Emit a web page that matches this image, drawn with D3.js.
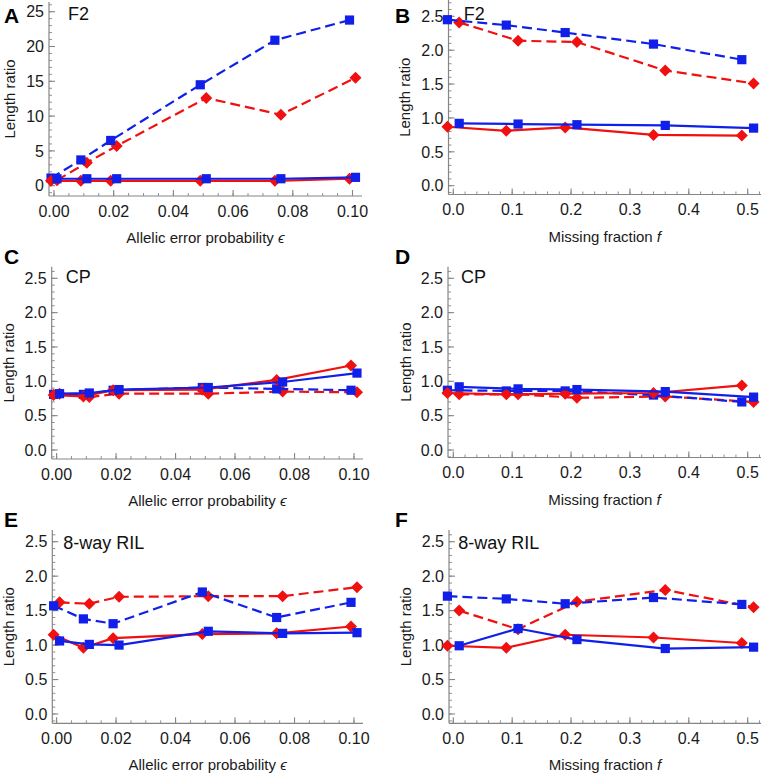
<!DOCTYPE html>
<html><head><meta charset="utf-8">
<script src="https://cdn.jsdelivr.net/npm/d3@7"></script>
<style>
html,body{margin:0;padding:0;background:#fff;}
svg text{font-family:"Liberation Sans",Arial,Helvetica,sans-serif;}
</style></head>
<body><svg id="chart" width="762" height="776"></svg>
<script>
// x positions (jittered as in the figure)
const errXLeft  = [-0.001, 0.009, 0.019, 0.049, 0.074, 0.099];
const errXRight = [0.001, 0.011, 0.021, 0.051, 0.076, 0.101];
const missXLeft  = [-0.01, 0.09, 0.19, 0.34, 0.49];
const missXRight = [0.01, 0.11, 0.21, 0.36, 0.51];

// Panel A (F2, allelic error)
const aRedDashed  = [0.8, 3.3, 5.7, 12.6, 10.2, 15.5];
const aBlueDashed = [1.1, 3.7, 6.5, 14.5, 20.9, 23.8];
const aRedSolid   = [0.7, 0.7, 0.7, 0.7, 0.7, 1.0];
const aBlueSolid  = [1.0, 1.0, 1.0, 1.0, 1.0, 1.2];
// Panel B (F2, missing fraction)
const bRedDashed  = [2.41, 2.14, 2.12, 1.70, 1.51];
const bBlueDashed = [2.45, 2.37, 2.26, 2.09, 1.86];
const bRedSolid   = [0.87, 0.81, 0.86, 0.75, 0.74];
const bBlueSolid  = [0.92, 0.91, 0.90, 0.89, 0.85];
// Panel C (CP, allelic error)
const cRedDashed  = [0.82, 0.77, 0.82, 0.82, 0.85, 0.84];
const cBlueDashed = [0.81, 0.81, 0.87, 0.91, 0.89, 0.87];
const cRedSolid   = [0.80, 0.78, 0.87, 0.88, 1.02, 1.23];
const cBlueSolid  = [0.82, 0.83, 0.88, 0.91, 0.99, 1.12];
// Panel D (CP, missing fraction)
const dRedDashed  = [0.81, 0.81, 0.76, 0.78, 0.70];
const dBlueDashed = [0.87, 0.86, 0.86, 0.80, 0.70];
const dRedSolid   = [0.83, 0.81, 0.82, 0.83, 0.94];
const dBlueSolid  = [0.92, 0.89, 0.88, 0.85, 0.77];
// Panel E (8-way RIL, allelic error)
const eRedDashed  = [1.62, 1.60, 1.70, 1.71, 1.71, 1.84];
const eBlueDashed = [1.57, 1.38, 1.31, 1.77, 1.40, 1.62];
const eRedSolid   = [1.15, 0.96, 1.10, 1.16, 1.17, 1.27];
const eBlueSolid  = [1.06, 1.01, 1.00, 1.20, 1.17, 1.18];
// Panel F (8-way RIL, missing fraction)
const fRedDashed  = [1.50, 1.23, 1.63, 1.80, 1.55];
const fBlueDashed = [1.71, 1.67, 1.60, 1.69, 1.59];
const fRedSolid   = [0.99, 0.96, 1.15, 1.11, 1.03];
const fBlueSolid  = [0.99, 1.24, 1.08, 0.95, 0.97];

// tick labels
const errTicks = [0, 0.02, 0.04, 0.06, 0.08, 0.10];
const missTicks = [0, 0.1, 0.2, 0.3, 0.4, 0.5];
const ratioTicks = [0, 0.5, 1.0, 1.5, 2.0, 2.5];
const bigTicks = [0, 5, 10, 15, 20, 25];

const panelLetters = ["A","B","C","D","E","F"];
const panelTitles = ["F2","F2","CP","CP","8-way RIL","8-way RIL"];
const xTitleErr = "Allelic error probability ";
const xTitleMiss = "Missing fraction ";
const yTitle = "Length ratio";

const RED = "#f01010", BLUE = "#1020e8";
const AXIS = "#858585";

const svg = d3.select("#chart");

function panel(cfg) {
  const g = svg.append("g");
  const x = d3.scaleLinear().domain(cfg.xd).range(cfg.xr);
  const y = d3.scaleLinear().domain(cfg.yd).range(cfg.yr);
  const [L, R, T, B] = cfg.frame;
  g.append("line").attr("x1", L).attr("x2", L).attr("y1", T).attr("y2", B).attr("stroke", AXIS).attr("stroke-width", 1.2);
  g.append("line").attr("x1", L).attr("x2", R).attr("y1", B).attr("y2", B).attr("stroke", AXIS).attr("stroke-width", 1.2);
  const xMinor = d3.range(Math.ceil(x.invert(L)/cfg.xMinor), Math.floor(x.invert(R)/cfg.xMinor)+1).map(k => k*cfg.xMinor);
  g.selectAll(null).data(xMinor).join("line")
    .attr("x1", d => x(d)).attr("x2", d => x(d)).attr("y1", B).attr("y2", B-3)
    .attr("stroke", AXIS).attr("stroke-width", 0.9);
  const yMinor = d3.range(Math.ceil(y.invert(B)/cfg.yMinor), Math.floor(y.invert(T)/cfg.yMinor)+1).map(k => k*cfg.yMinor);
  g.selectAll(null).data(yMinor).join("line")
    .attr("x1", L).attr("x2", L+3).attr("y1", d => y(d)).attr("y2", d => y(d))
    .attr("stroke", AXIS).attr("stroke-width", 0.9);
  g.selectAll(null).data(cfg.xTicks).join("line")
    .attr("x1", d => x(d)).attr("x2", d => x(d)).attr("y1", B).attr("y2", B-6)
    .attr("stroke", AXIS).attr("stroke-width", 1.1);
  g.selectAll(null).data(cfg.yTicks).join("line")
    .attr("x1", L).attr("x2", L+6).attr("y1", d => y(d)).attr("y2", d => y(d))
    .attr("stroke", AXIS).attr("stroke-width", 1.1);
  g.selectAll(null).data(cfg.xTicks).join("text")
    .attr("x", d => x(d)).attr("y", B+20.5).attr("text-anchor", "middle")
    .attr("font-size", 16).attr("fill", "#1a1a1a").text(cfg.xFmt);
  g.selectAll(null).data(cfg.yTicks).join("text")
    .attr("x", L-5).attr("y", d => y(d)).attr("dy", "0.36em").attr("text-anchor", "end")
    .attr("font-size", 16).attr("fill", "#1a1a1a").text(cfg.yFmt);
  const xt = g.append("text").attr("x", (L+R)/2).attr("y", B+47).attr("text-anchor", "middle")
    .attr("font-size", 15).attr("fill", "#1a1a1a");
  xt.append("tspan").text(cfg.xTitle);
  xt.append("tspan").attr("font-style", "italic").text(cfg.xSym);
  g.append("text").attr("transform", `translate(${cfg.yTitleX},${(T+B)/2}) rotate(-90)`)
    .attr("text-anchor", "middle").attr("font-size", 15).attr("fill", "#1a1a1a").text(yTitle);
  g.append("text").attr("x", cfg.letterPos[0]).attr("y", cfg.letterPos[1]).attr("font-size", 21)
    .attr("font-weight", "bold").attr("fill", "#000").text(cfg.letter);
  g.append("text").attr("x", cfg.titlePos[0]).attr("y", cfg.titlePos[1]).attr("font-size", 18)
    .attr("fill", "#111").text(cfg.title);
  const line = d3.line().x(d => x(d[0])).y(d => y(d[1]));
  cfg.series.forEach(s => {
    const pts = s.xs.map((xv, i) => [xv, s.ys[i]]);
    g.append("path").datum(pts).attr("d", line).attr("fill", "none")
      .attr("stroke", s.color).attr("stroke-width", 2.2)
      .attr("stroke-dasharray", s.dashed ? "10,5" : null);
    if (s.shape === "square") {
      g.selectAll(null).data(pts).join("rect")
        .attr("x", d => x(d[0]) - 4.6).attr("y", d => y(d[1]) - 4.6)
        .attr("width", 9.2).attr("height", 9.2).attr("fill", s.color);
    } else {
      g.selectAll(null).data(pts).join("path")
        .attr("d", d => { const cx = x(d[0]), cy = y(d[1]), r = 6;
          return `M${cx},${cy-r}L${cx+r},${cy}L${cx},${cy+r}L${cx-r},${cy}Z`; })
        .attr("fill", s.color);
    }
  });
}

function seriesSet(xl, xr, rd, bd, rs, bs) {
  return [
    {xs: xr, ys: rd, color: RED, dashed: true, shape: "diamond"},
    {xs: xl, ys: bd, color: BLUE, dashed: true, shape: "square"},
    {xs: xl, ys: rs, color: RED, dashed: false, shape: "diamond"},
    {xs: xr, ys: bs, color: BLUE, dashed: false, shape: "square"}
  ];
}

const fmt2 = d3.format(".2f"), fmt1 = d3.format(".1f"), fmt0 = d3.format("d");

const errCommon = {xd: [0, 0.1], xTicks: errTicks, xMinor: 0.005, xFmt: fmt2, xTitle: xTitleErr, xSym: "\u03F5"};
const missCommon = {xd: [0, 0.5], xTicks: missTicks, xMinor: 0.02, xFmt: fmt1, xTitle: xTitleMiss, xSym: "f"};
const ratioCommon = {yd: [0, 2.5], yTicks: ratioTicks, yMinor: 0.1, yFmt: fmt1};

panel(Object.assign({}, errCommon, {
  xr: [54, 352.5], yd: [0, 25], yr: [185.7, 11.7], yTicks: bigTicks, yMinor: 1, yFmt: fmt0,
  frame: [49, 362, 2, 196], yTitleX: 14.5,
  letter: panelLetters[0], letterPos: [4, 23], title: panelTitles[0], titlePos: [68, 20],
  series: seriesSet(errXLeft, errXRight, aRedDashed, aBlueDashed, aRedSolid, aBlueSolid)
}));
panel(Object.assign({}, missCommon, ratioCommon, {
  xr: [453.3, 747.7], yr: [185.7, 16.3],
  frame: [448.5, 761, 0, 194.5], yTitleX: 409.8,
  letter: panelLetters[1], letterPos: [395, 23], title: panelTitles[1], titlePos: [463.7, 20],
  series: seriesSet(missXLeft, missXRight, bRedDashed, bBlueDashed, bRedSolid, bBlueSolid)
}));
panel(Object.assign({}, errCommon, ratioCommon, {
  xr: [56.6, 354], yr: [450, 278.3],
  frame: [51.7, 363, 266.7, 459], yTitleX: 13.5,
  letter: panelLetters[2], letterPos: [4, 264], title: panelTitles[2], titlePos: [65.7, 283.3],
  series: seriesSet(errXLeft, errXRight, cRedDashed, cBlueDashed, cRedSolid, cBlueSolid)
}));
panel(Object.assign({}, missCommon, ratioCommon, {
  xr: [453.3, 747.7], yr: [450, 278.3],
  frame: [448, 761, 266.7, 457.5], yTitleX: 410.5,
  letter: panelLetters[3], letterPos: [395, 264], title: panelTitles[3], titlePos: [461, 283.3],
  series: seriesSet(missXLeft, missXRight, dRedDashed, dBlueDashed, dRedSolid, dBlueSolid)
}));
panel(Object.assign({}, errCommon, ratioCommon, {
  xr: [56.6, 354], yr: [714, 541.7],
  frame: [52.3, 363, 530, 723.3], yTitleX: 13.5,
  letter: panelLetters[4], letterPos: [4, 527], title: panelTitles[4], titlePos: [63.3, 549.3],
  series: seriesSet(errXLeft, errXRight, eRedDashed, eBlueDashed, eRedSolid, eBlueSolid)
}));
panel(Object.assign({}, missCommon, ratioCommon, {
  xr: [453.3, 747.7], yr: [714, 541.7],
  frame: [449, 761, 530, 723.3], yTitleX: 410.5,
  letter: panelLetters[5], letterPos: [395, 527], title: panelTitles[5], titlePos: [458.3, 549.3],
  series: seriesSet(missXLeft, missXRight, fRedDashed, fBlueDashed, fRedSolid, fBlueSolid)
}));
</script></body></html>
